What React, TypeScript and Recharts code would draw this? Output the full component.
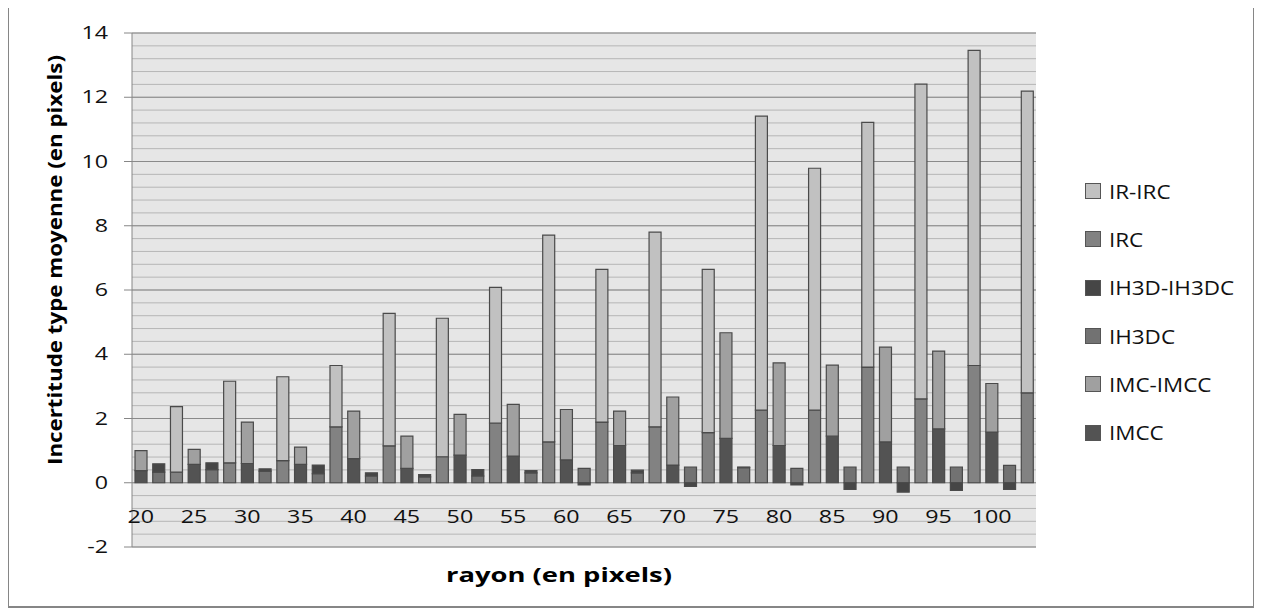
import React from 'react';
import { BarChart, Bar, XAxis, YAxis, CartesianGrid, Legend } from 'recharts';

// rayon (en pixels), one group of three bars per value
const radii = [20, 25, 30, 35, 40, 45, 50, 55, 60, 65, 70, 75, 80, 85, 90, 95, 100];

// first bar of each group
const imcc = [0.38, 0.57, 0.6, 0.57, 0.75, 0.45, 0.86, 0.83, 0.71, 1.16, 0.55, 1.38, 1.16, 1.45, 1.27, 1.68, 1.58];
const imcDiff = [0.62, 0.47, 1.29, 0.54, 1.48, 1.0, 1.27, 1.61, 1.57, 1.07, 2.12, 3.29, 2.57, 2.21, 2.95, 2.42, 1.51];

// second bar
const ih3dc = [0.33, 0.41, 0.36, 0.28, 0.21, 0.18, 0.21, 0.31, 0.45, 0.31, 0.49, 0.47, 0.45, 0.49, 0.49, 0.49, 0.54];
const ih3dDiff = [0.26, 0.21, 0.07, 0.27, 0.1, 0.07, 0.2, 0.07, -0.07, 0.08, -0.11, 0.02, -0.07, -0.21, -0.29, -0.24, -0.21];

// third bar
const irc = [0.33, 0.62, 0.69, 1.74, 1.15, 0.81, 1.86, 1.27, 1.89, 1.74, 1.56, 2.26, 2.26, 3.6, 2.61, 3.65, 2.8];
const irDiff = [2.04, 2.54, 2.61, 1.91, 4.12, 4.31, 4.22, 6.44, 4.75, 6.06, 5.08, 9.15, 7.53, 7.62, 9.8, 9.81, 9.39];

const yTicks = [-2, 0, 2, 4, 6, 8, 10, 12, 14];
const yMinorTicks = Array.from({ length: 41 }, (_, i) => Math.round((-2 + i * 0.4) * 10) / 10);

const series = [
  { key: 'IMCC', color: '#535353' },
  { key: 'IMC-IMCC', color: '#a0a0a0' },
  { key: 'IH3DC', color: '#727272' },
  { key: 'IH3D-IH3DC', color: '#464646' },
  { key: 'IRC', color: '#828282' },
  { key: 'IR-IRC', color: '#c1c1c1' },
];

const rows = radii.flatMap((r, i) => [
  { cat: `${r}-a`, IMCC: imcc[i], 'IMC-IMCC': imcDiff[i] },
  { cat: `${r}-b`, IH3DC: ih3dc[i], 'IH3D-IH3DC': ih3dDiff[i] },
  { cat: `${r}-c`, IRC: irc[i], 'IR-IRC': irDiff[i] },
]);

const font = '"Open Sans", sans-serif';
const stretch = 1.33; // the original chart is stretched sideways

const XTick = (props: any) => {
  const { x, y, payload } = props;
  const v = String(payload.value);
  if (!v.endsWith('-a')) return null;
  return (
    <g transform={`translate(${x},${y - 32}) scale(${stretch},1)`}>
      <text x={0} y={0} textAnchor="middle" fontFamily={font} fontSize={17.5} fill="#111">
        {v.split('-')[0]}
      </text>
    </g>
  );
};

const YTick = (props: any) => {
  const { x, y, payload } = props;
  return (
    <g transform={`translate(${x - 4},${y}) scale(${stretch},1)`}>
      <text x={0} y={0} dy="0.35em" textAnchor="end" fontFamily={font} fontSize={17.5} fill="#111">
        {payload.value}
      </text>
    </g>
  );
};

const LegendBox = (props: any) => {
  const payload = props.payload || [];
  const items = [...series].reverse().map((s) => {
    const p = payload.find((it: any) => it.value === s.key);
    return { name: s.key, color: p ? p.color : s.color };
  });
  return (
    <div style={{ width: 160, fontFamily: font, fontSize: 19.5, color: '#111' }}>
      {items.map((it) => (
        <div key={it.name} style={{ display: 'flex', alignItems: 'center', height: 48.3 }}>
          <span
            style={{
              display: 'inline-block',
              width: 14,
              height: 14,
              background: it.color,
              border: '1px solid #555',
              marginRight: 8,
              flex: 'none',
            }}
          />
          <span style={{ display: 'inline-block', transform: 'scaleX(1.15)', transformOrigin: 'left center', whiteSpace: 'nowrap' }}>
            {it.name}
          </span>
        </div>
      ))}
    </div>
  );
};

const App: React.FC = () => {
  return (
    <div style={{ width: 1244, height: 598, border: '2px solid #868686', marginTop: -2, marginLeft: -1, background: '#fff' }}>
      <BarChart
        width={1244}
        height={598}
        data={rows}
        stackOffset="sign"
        barCategoryGap="17%"
        margin={{ top: 25, right: 57, left: 0, bottom: 19 }}
      >
        <CartesianGrid vertical={false} horizontalValues={yMinorTicks} stroke="#b6b6b6" fill="#e6e6e6" fillOpacity={1} />
        <CartesianGrid vertical={false} horizontalValues={yTicks} stroke="#8a8a8a" />
        <XAxis
          dataKey="cat"
          interval={0}
          tick={<XTick />}
          tickLine={false}
          axisLine={false}
          height={40}
          label={{
            content: (p: any) => {
              const vb = p.viewBox || { x: 0, y: 0, width: 0, height: 0 };
              const cx = vb.x + vb.width / 2 - 25;
              return (
                <text
                  x={cx}
                  y={vb.y + vb.height - 5}
                  textAnchor="middle"
                  fontFamily={font}
                  fontSize={19}
                  fontWeight="bold"
                  fill="#000"
                  textLength={226}
                  lengthAdjust="spacingAndGlyphs"
                >
                  rayon (en pixels)
                </text>
              );
            },
          }}
        />
        <YAxis
          domain={[-2, 14]}
          ticks={yTicks}
          interval={0}
          width={123}
          tickSize={8}
          tickMargin={12}
          stroke="#868686"
          tick={<YTick />}
          label={{
            content: () => (
              <text
                x={46}
                y={252}
                transform="rotate(-90 46 252)"
                textAnchor="middle"
                dominantBaseline="central"
                fontFamily={font}
                fontSize={19}
                fontWeight="bold"
                fill="#000"
                textLength={410}
                lengthAdjust="spacingAndGlyphs"
              >
                Incertitude type moyenne (en pixels)
              </text>
            ),
          }}
        />
        {series.map((s) => (
          <Bar
            key={s.key}
            dataKey={s.key}
            stackId="s"
            fill={s.color}
            stroke="#4a4a4a"
            strokeWidth={1.2}
            isAnimationActive={false}
          />
        ))}
        <Legend
          layout="vertical"
          align="right"
          verticalAlign="top"
          content={<LegendBox />}
          wrapperStyle={{ left: 1076, right: 'auto', top: 159 }}
        />
      </BarChart>
    </div>
  );
};

export default App;
